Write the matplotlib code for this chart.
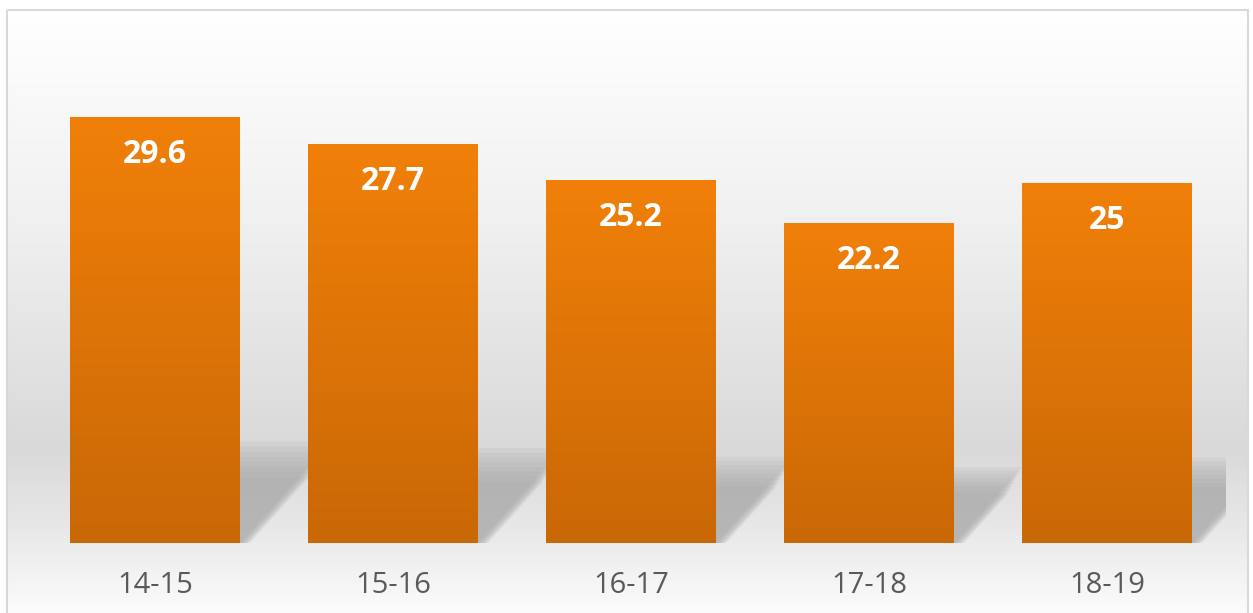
import numpy as np
import matplotlib.pyplot as plt
from matplotlib.colors import LinearSegmentedColormap
from matplotlib.patches import Polygon, Rectangle

categories = ["14-15", "15-16", "16-17", "17-18", "18-19"]
values = [29.6, 27.7, 25.2, 22.2, 25]

plt.rcParams['font.family'] = ['Open Sans', 'DejaVu Sans']

W, H = 1253, 613
fig = plt.figure(figsize=(W / 100, H / 100), dpi=100)

# chart area background (white -> grey -> white) inside a thin border
bg = fig.add_axes([0, 0, 1, 1], zorder=0)
bg.set_xlim(0, W)
bg.set_ylim(H, 0)
bg.axis('off')
bg_cmap = LinearSegmentedColormap.from_list(
    'bg', [(0.0, '#ffffff'), (0.35, '#f0f0f0'), (0.72, '#d9d9d9'),
           (0.86, '#e9e9e9'), (1.0, '#fdfdfd')])
grad = np.linspace(0, 1, 300).reshape(-1, 1)
bg.imshow(grad, cmap=bg_cmap, aspect='auto', extent=[7, 1248, 620, 10],
          interpolation='bilinear')
bg.add_patch(Rectangle((7, 10), 1241, 620, fill=False, edgecolor='#d9d9d9',
                       linewidth=1.5))

ax = fig.add_axes([36 / W, 1 - 543 / H, (1226 - 36) / W, (543 - 39) / H],
                  zorder=1)
ax.patch.set_alpha(0)
x = np.arange(len(categories))
width = 0.714
ax.set_xlim(-0.5, len(categories) - 0.5)
ax.set_ylim(0, 35)

# cast shadows behind the bars
for xi, v in zip(x, values):
    for k in range(8):
        f = 1 - 0.05 * k
        hs = 0.238 * v * f
        s = 0.0129 * v * f
        x0, x1 = xi - width / 2, xi + width / 2
        poly = Polygon([(x0, 0), (x1 + 0.006 * k, 0), (x1 + s + 0.006 * k, hs),
                        (x0 + s, hs)], closed=True, facecolor='#a8a8a8',
                       edgecolor='none', alpha=0.16, zorder=1)
        ax.add_patch(poly)

bars = ax.bar(x, values, width=width, color='#dd7408', zorder=2)
bar_cmap = LinearSegmentedColormap.from_list(
    'bar', [(0.0, '#c96806'), (0.75, '#e77a08'), (1.0, '#f08009')])
for b in bars:
    im = ax.imshow(np.linspace(0, 1, 200).reshape(-1, 1), cmap=bar_cmap,
                   aspect='auto', origin='lower', interpolation='bilinear',
                   extent=[b.get_x(), b.get_x() + b.get_width(), 0, b.get_height()],
                   zorder=3)
    im.set_clip_path(b)

for xi, v in zip(x, values):
    ax.annotate(f"{v:g}", (xi, v), xytext=(0, -27), textcoords='offset points',
                ha='center', va='center', color='white', fontsize=23,
                fontweight='bold', zorder=4)

ax.set_xticks(x)
ax.set_xticklabels(categories, fontsize=21, color='#595959')
ax.tick_params(axis='x', length=0, pad=20)
ax.set_yticks([])
for sp in ax.spines.values():
    sp.set_visible(False)

fig.savefig('out.png', dpi=100)
